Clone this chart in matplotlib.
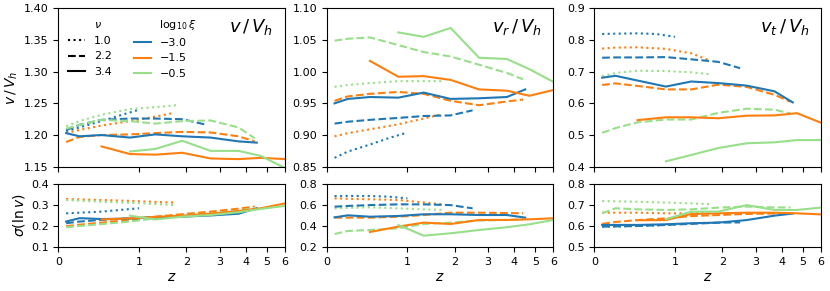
import numpy as np
import matplotlib
matplotlib.use("Agg")
import matplotlib.pyplot as plt
from matplotlib.lines import Line2D

# line style per nu, colour per log10 xi
nu_labels = ["1.0", "2.2", "3.4"]
xi_labels = ["\u22123.0", "\u22121.5", "\u22120.5"]
styles = [":", "--", "-"]
colors = ["#1f77b4", "#ff7f0e", "#98df8a"]

# redshifts of each (nu, xi) track, rows = nu, cols = xi
z_dot = [[0.07, 0.2, 0.45, 0.7, 1.0],
         [0.07, 0.2, 0.45, 0.85, 1.3, 1.7],
         [0.07, 0.2, 0.45, 0.85, 1.3, 1.75]]
z_dash = [[0.07, 0.2, 0.45, 0.85, 1.3, 1.9, 2.5],
          [0.07, 0.2, 0.45, 0.85, 1.3, 1.9, 2.7, 3.7, 4.4],
          [0.07, 0.2, 0.45, 0.85, 1.3, 1.9, 2.7, 3.7, 4.4]]
z_solid = [[0.07, 0.2, 0.45, 0.85, 1.3, 1.9, 2.7, 3.7, 4.5],
           [0.45, 0.85, 1.3, 1.9, 2.7, 3.7, 4.7, 6.0],
           [0.85, 1.3, 1.9, 2.7, 3.7, 4.7, 6.0]]
z_tracks = [z_dot, z_dash, z_solid]

# mean speed v / V_h
v_tot = [
    [[1.206, 1.212, 1.222, 1.231, 1.240],
     [1.203, 1.208, 1.215, 1.222, 1.229, 1.235],
     [1.214, 1.222, 1.232, 1.241, 1.244, 1.247]],
    [[1.208, 1.216, 1.224, 1.226, 1.226, 1.225, 1.217],
     [1.189, 1.197, 1.200, 1.201, 1.203, 1.205, 1.204, 1.198, 1.190],
     [1.210, 1.216, 1.224, 1.222, 1.218, 1.222, 1.223, 1.212, 1.195]],
    [[1.203, 1.198, 1.200, 1.196, 1.201, 1.198, 1.196, 1.190, 1.188],
     [1.182, 1.170, 1.169, 1.172, 1.163, 1.162, 1.164, 1.162],
     [1.174, 1.178, 1.191, 1.175, 1.175, 1.167, 1.148]],
]
v_rad = [
    [[0.864, 0.874, 0.885, 0.895, 0.904],
     [0.898, 0.903, 0.909, 0.917, 0.926, 0.933],
     [0.976, 0.979, 0.982, 0.985, 0.985, 0.985]],
    [[0.918, 0.921, 0.924, 0.927, 0.930, 0.931, 0.939],
     [0.954, 0.961, 0.965, 0.968, 0.965, 0.954, 0.947, 0.953, 0.956],
     [1.049, 1.052, 1.054, 1.042, 1.031, 1.024, 1.011, 0.998, 0.988]],
    [[0.950, 0.957, 0.960, 0.959, 0.967, 0.957, 0.958, 0.960, 0.972],
     [1.017, 0.992, 0.993, 0.987, 0.972, 0.970, 0.962, 0.971],
     [1.062, 1.055, 1.069, 1.022, 1.020, 1.004, 0.984]],
]
v_tan = [
    [[0.819, 0.820, 0.821, 0.819, 0.810],
     [0.773, 0.776, 0.777, 0.772, 0.758, 0.735],
     [0.686, 0.696, 0.703, 0.702, 0.698, 0.691]],
    [[0.744, 0.745, 0.745, 0.746, 0.739, 0.731, 0.711],
     [0.658, 0.663, 0.655, 0.644, 0.644, 0.659, 0.652, 0.627, 0.605],
     [0.507, 0.522, 0.540, 0.549, 0.549, 0.570, 0.583, 0.580, 0.568]],
    [[0.681, 0.687, 0.672, 0.653, 0.669, 0.664, 0.656, 0.638, 0.603],
     [0.547, 0.556, 0.556, 0.553, 0.561, 0.562, 0.569, 0.539],
     [0.417, 0.437, 0.459, 0.474, 0.477, 0.484, 0.484]],
]

# scatter sigma(ln v)
s_tot = [
    [[0.261, 0.264, 0.269, 0.277, 0.285],
     [0.329, 0.327, 0.324, 0.320, 0.315, 0.312],
     [0.324, 0.321, 0.316, 0.311, 0.305, 0.300]],
    [[0.214, 0.222, 0.230, 0.237, 0.243, 0.250, 0.258],
     [0.200, 0.207, 0.217, 0.230, 0.245, 0.257, 0.269, 0.283, 0.293],
     [0.195, 0.201, 0.210, 0.222, 0.237, 0.250, 0.261, 0.274, 0.285]],
    [[0.222, 0.238, 0.234, 0.236, 0.242, 0.245, 0.251, 0.259, 0.285],
     [0.232, 0.237, 0.244, 0.250, 0.260, 0.272, 0.285, 0.308],
     [0.250, 0.232, 0.245, 0.253, 0.266, 0.282, 0.296]],
]
s_rad = [
    [[0.686, 0.687, 0.686, 0.680, 0.664],
     [0.664, 0.660, 0.655, 0.648, 0.625, 0.607],
     [0.569, 0.574, 0.579, 0.569, 0.560, 0.554]],
    [[0.585, 0.592, 0.600, 0.607, 0.607, 0.600, 0.569],
     [0.481, 0.481, 0.481, 0.490, 0.506, 0.528, 0.528, 0.525, 0.522],
     [0.326, 0.355, 0.364, 0.380, 0.421, 0.434, 0.453, 0.460, 0.465]],
    [[0.484, 0.503, 0.490, 0.497, 0.513, 0.513, 0.506, 0.506, 0.481],
     [0.345, 0.396, 0.434, 0.421, 0.459, 0.459, 0.465, 0.475],
     [0.412, 0.310, 0.333, 0.364, 0.390, 0.418, 0.459]],
]
s_tan = [
    [[0.598, 0.599, 0.601, 0.604, 0.607],
     [0.664, 0.664, 0.664, 0.661, 0.661, 0.661],
     [0.719, 0.718, 0.716, 0.712, 0.708, 0.704]],
    [[0.598, 0.599, 0.601, 0.606, 0.611, 0.617, 0.618],
     [0.611, 0.620, 0.629, 0.637, 0.648, 0.653, 0.658, 0.660, 0.661],
     [0.661, 0.685, 0.680, 0.677, 0.680, 0.688, 0.693, 0.689, 0.689]],
    [[0.606, 0.606, 0.606, 0.609, 0.614, 0.617, 0.629, 0.650, 0.660],
     [0.628, 0.629, 0.658, 0.661, 0.664, 0.664, 0.661, 0.656],
     [0.633, 0.669, 0.669, 0.700, 0.677, 0.677, 0.688]],
]

top_data = [v_tot, v_rad, v_tan]
bot_data = [s_tot, s_rad, s_tan]
top_titles = [r"$v\,/\,V_h$", r"$v_r\,/\,V_h$", r"$v_t\,/\,V_h$"]
top_ylim = [(1.15, 1.40), (0.85, 1.10), (0.4, 0.9)]
top_yticks = [np.arange(1.15, 1.401, 0.05), np.arange(0.85, 1.101, 0.05), np.arange(0.4, 0.901, 0.1)]
top_fmt = ["%.2f", "%.2f", "%.1f"]
bot_ylim = [(0.1, 0.4), (0.2, 0.8), (0.5, 0.8)]
bot_yticks = [np.arange(0.1, 0.401, 0.1), np.arange(0.2, 0.801, 0.2), np.arange(0.5, 0.801, 0.1)]

plt.rcParams['font.size'] = 8
plt.rcParams['xtick.labelsize'] = 8
plt.rcParams['ytick.labelsize'] = 8

fig = plt.figure(figsize=(8.3, 2.91), dpi=100)
lefts = [0.0702, 0.3936, 0.716]
width = 0.273


def draw(ax, data):
    for i in range(3):
        for j in range(3):
            ax.plot(z_tracks[i][j], data[i][j], ls=styles[i], color=colors[j], lw=1.5)
    ax.set_xscale('function', functions=(np.log1p, np.expm1))
    ax.set_xlim(0, 6)
    ax.set_xticks(range(7))


for k in range(3):
    ax = fig.add_axes([lefts[k], 0.4271, width, 0.5443])
    draw(ax, top_data[k])
    ax.set_ylim(*top_ylim[k])
    ax.set_yticks(top_yticks[k])
    ax.set_yticklabels([top_fmt[k] % t for t in top_yticks[k]])
    ax.set_xticklabels([])
    ax.text(0.948, 0.945, top_titles[k], transform=ax.transAxes,
            ha='right', va='top', fontsize=13)
    if k == 0:
        ax.set_ylabel(r"$v\,/\,V_h$", fontsize=10, labelpad=3)
        blank = Line2D([], [], color='none')
        handles = [blank] + [Line2D([], [], color='k', ls=s, lw=1.5) for s in styles]
        handles += [blank] + [Line2D([], [], color=c, lw=1.5) for c in colors]
        labels = [r"$\nu$"] + nu_labels + [r"$\log_{10}\xi$"] + xi_labels
        ax.legend(handles, labels, ncol=2, loc='upper left', frameon=False,
                  handlelength=1.5, fontsize=8)

    axb = fig.add_axes([lefts[k], 0.1502, width, 0.2175])
    draw(axb, bot_data[k])
    axb.set_ylim(*bot_ylim[k])
    axb.set_yticks(bot_yticks[k])
    axb.set_yticklabels(["%.1f" % t for t in bot_yticks[k]])
    axb.set_xticklabels([str(t) for t in range(7)])
    axb.set_xlabel(r"$z$", fontsize=10, labelpad=2)
    if k == 0:
        axb.set_ylabel(r"$\sigma(\ln v)$", fontsize=10, labelpad=3)

fig.savefig("out.png", dpi=100)
